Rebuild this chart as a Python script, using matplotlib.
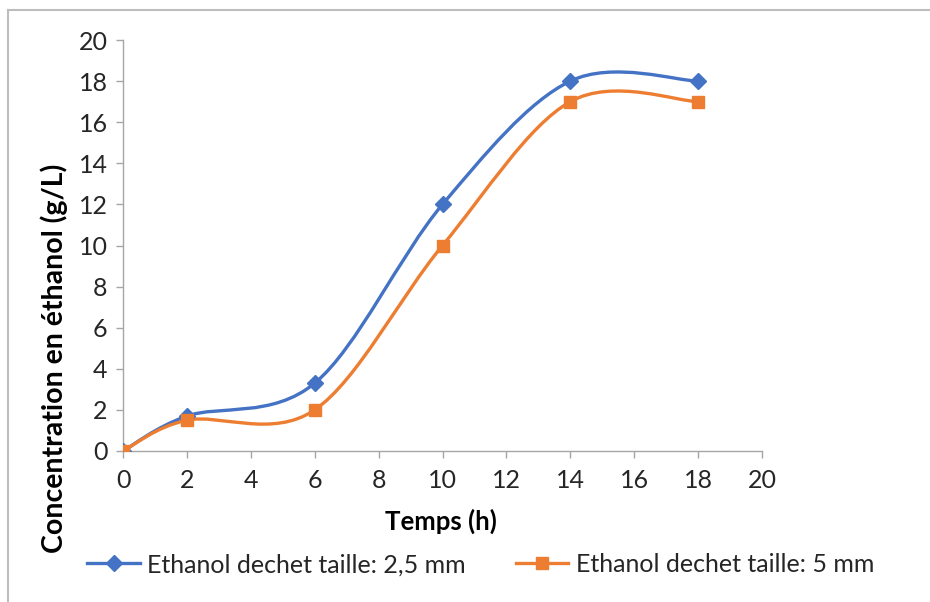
import numpy as np
import matplotlib
matplotlib.use('Agg')
import matplotlib.pyplot as plt
from matplotlib.path import Path
from matplotlib.patches import PathPatch
from matplotlib.lines import Line2D

plt.rcParams['font.family'] = ['Lato', 'DejaVu Sans']

temps = [0, 2, 6, 10, 14, 18]
ethanol_25mm = [0, 1.7, 3.3, 12, 18, 18]
ethanol_5mm = [0, 1.5, 2, 10, 17, 17]

label_25 = 'Ethanol dechet taille: 2,5 mm'
label_5 = 'Ethanol dechet taille: 5 mm'

blue = '#4472C4'
orange = '#ED7D31'
grid_col = '#a6a6a6'
text_col = '#262626'


def smooth_path(xs, ys):
    # excel-like smoothed line: catmull-rom segments as cubic beziers
    pts = np.column_stack([xs, ys]).astype(float)
    n = len(pts)
    verts = [pts[0]]
    codes = [Path.MOVETO]
    for i in range(n - 1):
        p0 = pts[max(i - 1, 0)]
        p1 = pts[i]
        p2 = pts[i + 1]
        p3 = pts[min(i + 2, n - 1)]
        c1 = p1 + (p2 - p0) / 6.0
        c2 = p2 - (p3 - p1) / 6.0
        verts += [c1, c2, p2]
        codes += [Path.CURVE4] * 3
    return Path(verts, codes)


fig = plt.figure(figsize=(9.3, 6.02), dpi=100)
ax = fig.add_axes([123 / 930, 1 - 451 / 602, (762 - 123) / 930, (451 - 40) / 602])

for ys, col, mk, ms in [(ethanol_25mm, blue, 'D', 8), (ethanol_5mm, orange, 's', 9)]:
    ax.add_patch(PathPatch(smooth_path(temps, ys), facecolor='none', edgecolor=col, lw=2.4, zorder=3))
    ax.plot(temps, ys, linestyle='none', marker=mk, ms=ms, color=col, zorder=4)

ax.set_xlim(0, 20)
ax.set_ylim(0, 20)
ax.set_xticks(range(0, 21, 2))
ax.set_yticks(range(0, 21, 2))
for s in ['top', 'right']:
    ax.spines[s].set_visible(False)
for s in ['left', 'bottom']:
    ax.spines[s].set_color(grid_col)
    ax.spines[s].set_linewidth(1.0)
ax.tick_params(axis='both', direction='out', length=5, width=1.0, color=grid_col,
               labelsize=18, labelcolor=text_col)
ax.tick_params(axis='x', pad=8)
ax.tick_params(axis='y', pad=6)

ax.set_xlabel('Temps (h)', fontsize=18.5, fontweight='bold', color='black')
ax.set_ylabel('Concentration en éthanol (g/L)', fontsize=20.5, fontweight='bold', color='black')
ax.xaxis.set_label_coords((441 - 123) / 639, (451 - 509) / 411)
ax.yaxis.set_label_coords((68 - 123) / 639, (451 - 358) / 411)

handles = [
    Line2D([], [], color=blue, lw=2.4, marker='D', ms=8),
    Line2D([], [], color=orange, lw=2.4, marker='s', ms=9),
]
fig.legend(handles, [label_25, label_5], loc='center', bbox_to_anchor=(0.517, 0.062), ncol=2,
           frameon=False, fontsize=18, handlelength=2.1, handletextpad=0.3, columnspacing=2.0,
           labelcolor=text_col)

# outer frame (top and left edges visible)
fig.add_artist(Line2D([8 / 930, 1], [1 - 10 / 602, 1 - 10 / 602], transform=fig.transFigure, color='#bdbdbd', lw=1.5))
fig.add_artist(Line2D([8 / 930, 8 / 930], [0, 1 - 10 / 602], transform=fig.transFigure, color='#bdbdbd', lw=1.5))

fig.savefig('out.png', dpi=100)
